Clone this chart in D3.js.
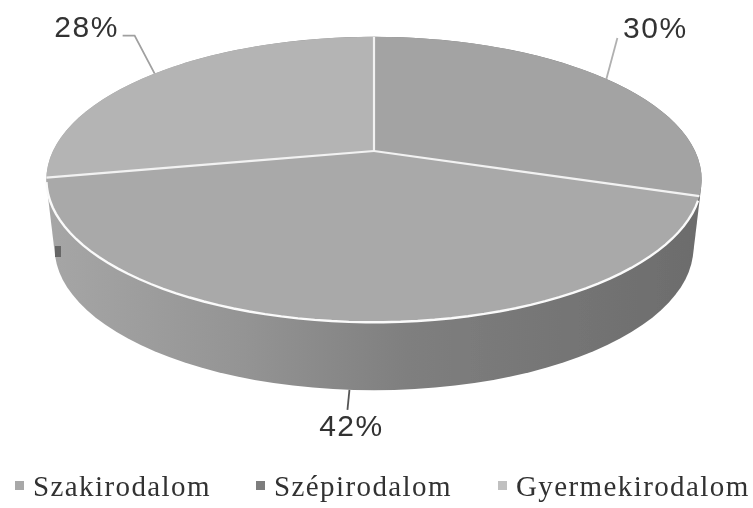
<!DOCTYPE html>
<html>
<head>
<meta charset="utf-8">
<script src="https://cdn.jsdelivr.net/npm/d3@7"></script>
<style>
  html, body { margin: 0; padding: 0; background: #fff; }
  svg { display: block; }
</style>
</head>
<body>
<div id="app"></div>
<script>
const categories = ['Szakirodalom', 'Szépirodalom', 'Gyermekirodalom'];
const values = [30, 42, 28];
const labels = ['30%', '42%', '28%'];

const width = 753;
const height = 508;

const topColor = d3.scaleOrdinal().domain(categories).range(['#a3a3a3', '#a9a9a9', '#b4b4b4']);
const swatchColor = d3.scaleOrdinal().domain(categories).range(['#a8a8a8', '#7d7d7d', '#c0c0c0']);

// perspective disc, upper face and lower face
const k = 0.2;
const upper = { cx: 374, cy: 151, a: 321, b: 137 };
const lower = { cx: 374, cy: 219, a: 313, b: 137 };

function project(disc, angle, r = 1) {
  const w = 1 + k * r * Math.cos(angle);
  return [
    disc.cx + (disc.a * r * Math.sin(angle)) / w,
    disc.cy - (disc.b * r * Math.cos(angle)) / w,
  ];
}

function arcPoints(disc, start, end) {
  return d3.range(0, 61).map((i) => project(disc, start + ((end - start) * i) / 60));
}

const pie = d3.pie().sort(null).value((d) => d.value);
const slices = pie(categories.map((name, i) => ({ name, value: values[i], label: labels[i] })));

const svg = d3.select('#app').append('svg').attr('width', width).attr('height', height);

const defs = svg.append('defs');
defs.append('filter').attr('id', 'scan')
  .append('feGaussianBlur').attr('stdDeviation', 0.55);
const wallGrad = defs.append('linearGradient').attr('id', 'wall');
wallGrad.selectAll('stop')
  .data([[0, '#a6a6a6'], [0.3, '#949494'], [0.55, '#7f7f7f'], [1, '#6c6c6c']])
  .join('stop')
  .attr('offset', (d) => d[0])
  .attr('stop-color', (d) => d[1]);

const chart = svg.append('g').attr('filter', 'url(#scan)');

// side wall = hull of both faces
const rimAll = d3.range(0, 120).map((i) => (i / 120) * 2 * Math.PI);
const hull = d3.polygonHull(rimAll.flatMap((t) => [project(upper, t), project(lower, t)]));
chart.append('path')
  .attr('d', d3.line()(hull) + 'Z')
  .attr('fill', 'url(#wall)');

// top face
const line = d3.line();
chart.selectAll('path.slice')
  .data(slices)
  .join('path')
  .attr('class', 'slice')
  .attr('fill', (d) => topColor(d.data.name))
  .attr('d', (d) => line([[upper.cx, upper.cy], ...arcPoints(upper, d.startAngle, d.endAngle)]) + 'Z');

// white separators
chart.selectAll('path.sep')
  .data(slices)
  .join('path')
  .attr('class', 'sep')
  .attr('fill', 'none')
  .attr('stroke', '#f2f2f2')
  .attr('stroke-width', 2.2)
  .attr('d', (d) => line([[upper.cx, upper.cy], project(upper, d.startAngle)]));

// white rim along the front slice
chart.append('path')
  .attr('fill', 'none')
  .attr('stroke', '#fafafa')
  .attr('stroke-width', 2.4)
  .attr('d', line(arcPoints(upper, slices[1].startAngle + 0.03, slices[1].endAngle - 0.03)));

// leaders
const midAngle = (d) => (d.startAngle + d.endAngle) / 2;
const leaderDefs = [
  { stroke: '#b0b0b0', pts: (p) => [p, [p[0] + 11, p[1] - 41]] },
  { stroke: '#555', pts: (p) => [p, [p[0] - 2, p[1] + 20]] },
  { stroke: '#a0a0a0', pts: (p) => [p, [p[0] - 20, p[1] - 38], [p[0] - 32, p[1] - 38]] },
];
chart.selectAll('path.leader')
  .data(slices)
  .join('path')
  .attr('class', 'leader')
  .attr('fill', 'none')
  .attr('stroke-width', 1.8)
  .attr('stroke', (d, i) => leaderDefs[i].stroke)
  .attr('d', (d, i) => {
    const disc = i === 1 ? lower : upper;
    return line(leaderDefs[i].pts(project(disc, midAngle(d))));
  });

// scan speck on the left of the wall
chart.append('rect')
  .attr('x', 55).attr('y', 246).attr('width', 6).attr('height', 11)
  .attr('fill', '#666');

const labelPos = [
  { dx: 49, dy: -41 },
  { dx: 2, dy: 46 },
  { dx: -68, dy: -37 },
];
const labelG = svg.append('g').attr('filter', 'url(#scan)');
labelG.selectAll('text')
  .data(slices)
  .join('text')
  .attr('font-family', 'Liberation Sans, Arial, sans-serif')
  .attr('font-size', 30)
  .attr('letter-spacing', 1.5)
  .attr('text-anchor', 'middle')
  .attr('fill', '#333')
  .attr('x', (d, i) => project(i === 1 ? lower : upper, midAngle(d))[0] + labelPos[i].dx)
  .attr('y', (d, i) => project(i === 1 ? lower : upper, midAngle(d))[1] + labelPos[i].dy)
  .text((d) => d.data.label);

// legend
const legendX = d3.scaleOrdinal().domain(categories).range([15, 256, 498]);
const legend = svg.append('g').attr('filter', 'url(#scan)')
  .selectAll('g')
  .data(categories)
  .join('g')
  .attr('transform', (d) => `translate(${legendX(d)},481)`);

legend.append('rect')
  .attr('width', 9)
  .attr('height', 9)
  .attr('fill', (d) => swatchColor(d));

legend.append('text')
  .attr('x', 18)
  .attr('y', 15)
  .attr('font-family', 'Liberation Serif, Times New Roman, serif')
  .attr('font-size', 29)
  .attr('letter-spacing', 1.4)
  .attr('fill', '#303030')
  .text((d) => d);
</script>
</body>
</html>
